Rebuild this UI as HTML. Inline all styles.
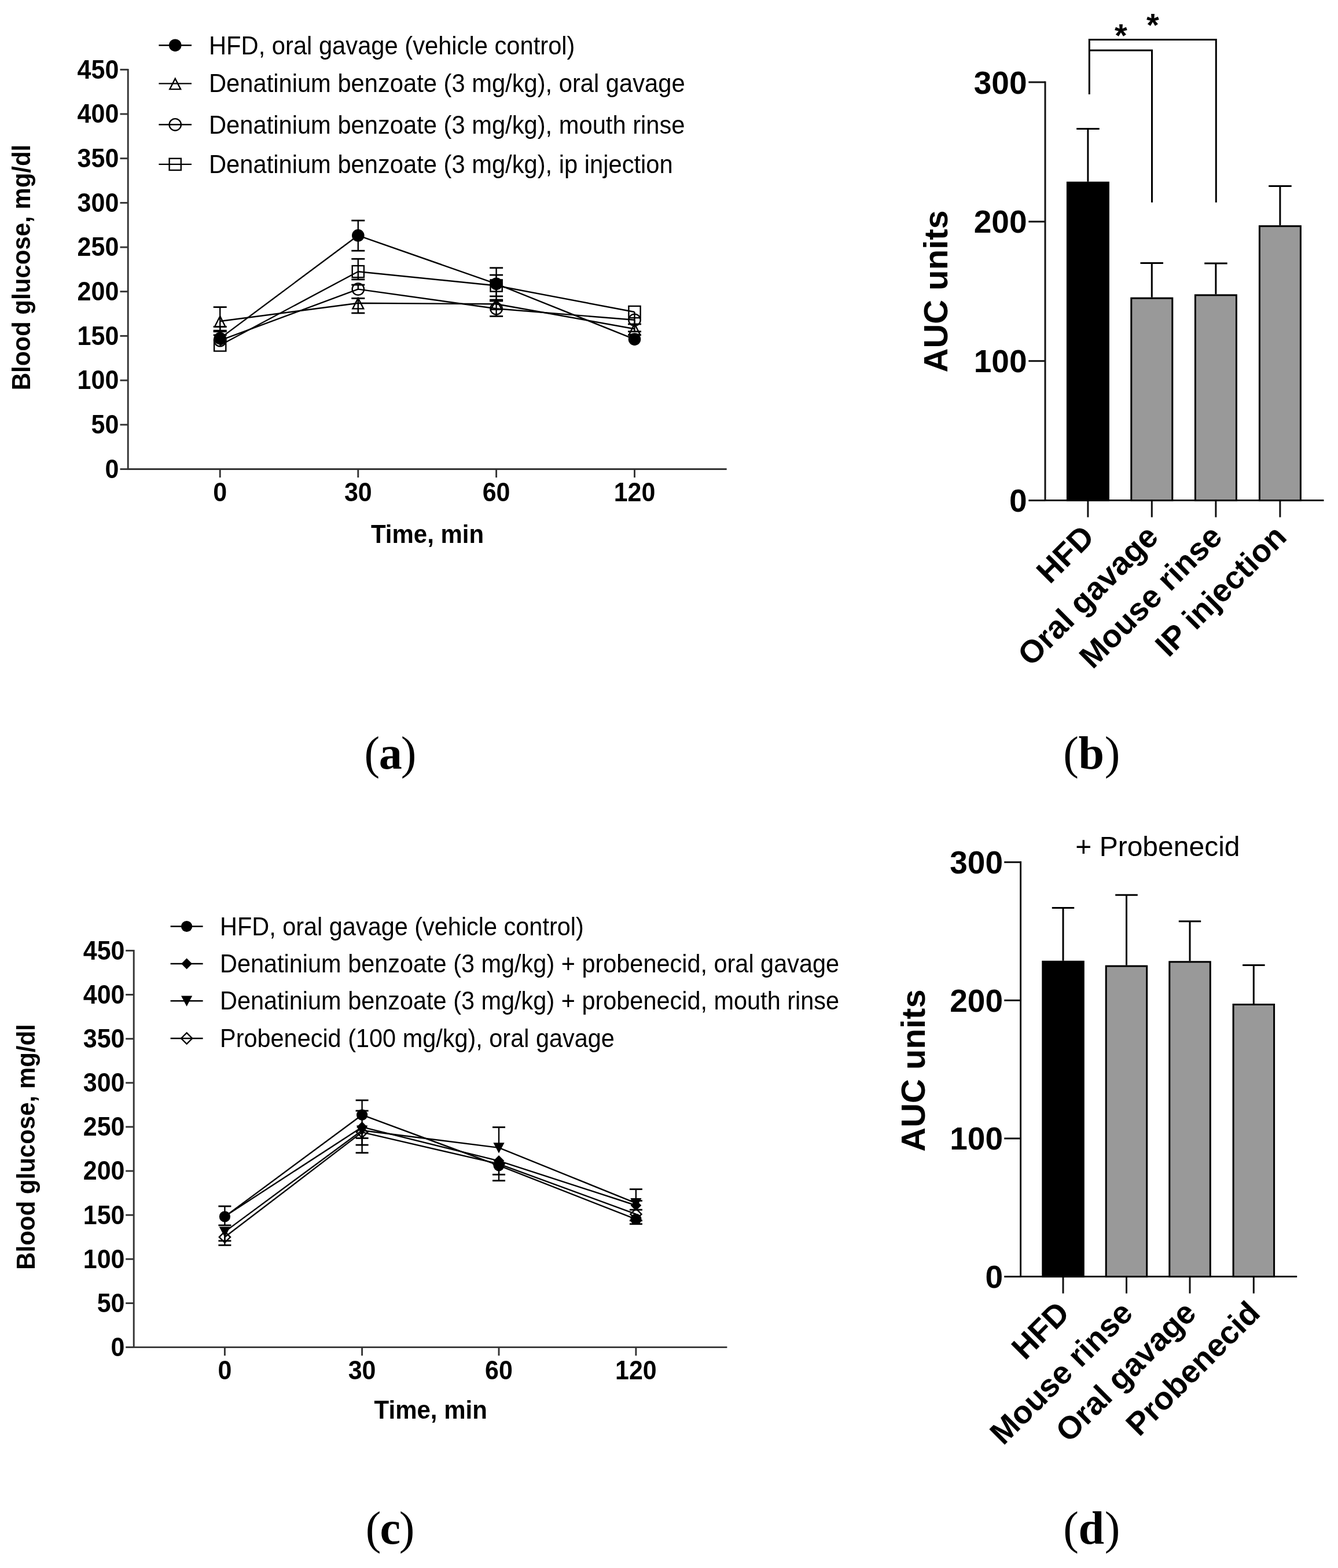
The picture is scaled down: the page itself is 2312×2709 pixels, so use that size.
<!DOCTYPE html>
<html><head><meta charset="utf-8"><title>Figure</title>
<style>html,body{margin:0;padding:0;background:#fff;} svg{display:block;}</style>
</head><body>
<svg width="2312" height="2709" viewBox="0 0 2312 2709">
<rect width="2312" height="2709" fill="#fff"/>
<line x1="221.2" y1="119.0" x2="221.2" y2="811.8" stroke="#333" stroke-width="2.9" stroke-linecap="butt"/>
<line x1="219.9" y1="810.5" x2="1255.7" y2="810.5" stroke="#333" stroke-width="2.9" stroke-linecap="butt"/>
<line x1="207.5" y1="810.5" x2="221.2" y2="810.5" stroke="#333" stroke-width="2.9" stroke-linecap="butt"/>
<text transform="translate(205.3,825.8) scale(1,1.09)" x="0" y="0" font-family="'Liberation Sans', Arial, Helvetica, sans-serif" font-size="43" font-weight="bold" text-anchor="end" >0</text>
<line x1="207.5" y1="733.8" x2="221.2" y2="733.8" stroke="#333" stroke-width="2.9" stroke-linecap="butt"/>
<text transform="translate(205.3,749.1) scale(1,1.09)" x="0" y="0" font-family="'Liberation Sans', Arial, Helvetica, sans-serif" font-size="43" font-weight="bold" text-anchor="end" >50</text>
<line x1="207.5" y1="657.1" x2="221.2" y2="657.1" stroke="#333" stroke-width="2.9" stroke-linecap="butt"/>
<text transform="translate(205.3,672.4) scale(1,1.09)" x="0" y="0" font-family="'Liberation Sans', Arial, Helvetica, sans-serif" font-size="43" font-weight="bold" text-anchor="end" >100</text>
<line x1="207.5" y1="580.4" x2="221.2" y2="580.4" stroke="#333" stroke-width="2.9" stroke-linecap="butt"/>
<text transform="translate(205.3,595.7) scale(1,1.09)" x="0" y="0" font-family="'Liberation Sans', Arial, Helvetica, sans-serif" font-size="43" font-weight="bold" text-anchor="end" >150</text>
<line x1="207.5" y1="503.7" x2="221.2" y2="503.7" stroke="#333" stroke-width="2.9" stroke-linecap="butt"/>
<text transform="translate(205.3,519.0) scale(1,1.09)" x="0" y="0" font-family="'Liberation Sans', Arial, Helvetica, sans-serif" font-size="43" font-weight="bold" text-anchor="end" >200</text>
<line x1="207.5" y1="427.1" x2="221.2" y2="427.1" stroke="#333" stroke-width="2.9" stroke-linecap="butt"/>
<text transform="translate(205.3,442.4) scale(1,1.09)" x="0" y="0" font-family="'Liberation Sans', Arial, Helvetica, sans-serif" font-size="43" font-weight="bold" text-anchor="end" >250</text>
<line x1="207.5" y1="350.4" x2="221.2" y2="350.4" stroke="#333" stroke-width="2.9" stroke-linecap="butt"/>
<text transform="translate(205.3,365.7) scale(1,1.09)" x="0" y="0" font-family="'Liberation Sans', Arial, Helvetica, sans-serif" font-size="43" font-weight="bold" text-anchor="end" >300</text>
<line x1="207.5" y1="273.7" x2="221.2" y2="273.7" stroke="#333" stroke-width="2.9" stroke-linecap="butt"/>
<text transform="translate(205.3,289.0) scale(1,1.09)" x="0" y="0" font-family="'Liberation Sans', Arial, Helvetica, sans-serif" font-size="43" font-weight="bold" text-anchor="end" >350</text>
<line x1="207.5" y1="197.0" x2="221.2" y2="197.0" stroke="#333" stroke-width="2.9" stroke-linecap="butt"/>
<text transform="translate(205.3,212.3) scale(1,1.09)" x="0" y="0" font-family="'Liberation Sans', Arial, Helvetica, sans-serif" font-size="43" font-weight="bold" text-anchor="end" >400</text>
<line x1="207.5" y1="120.3" x2="221.2" y2="120.3" stroke="#333" stroke-width="2.9" stroke-linecap="butt"/>
<text transform="translate(205.3,135.6) scale(1,1.09)" x="0" y="0" font-family="'Liberation Sans', Arial, Helvetica, sans-serif" font-size="43" font-weight="bold" text-anchor="end" >450</text>
<line x1="380.2" y1="810.5" x2="380.2" y2="825.0" stroke="#333" stroke-width="2.9" stroke-linecap="butt"/>
<text transform="translate(380.2,866.3) scale(1,1.09)" x="0" y="0" font-family="'Liberation Sans', Arial, Helvetica, sans-serif" font-size="43" font-weight="bold" text-anchor="middle" >0</text>
<line x1="618.8" y1="810.5" x2="618.8" y2="825.0" stroke="#333" stroke-width="2.9" stroke-linecap="butt"/>
<text transform="translate(618.8,866.3) scale(1,1.09)" x="0" y="0" font-family="'Liberation Sans', Arial, Helvetica, sans-serif" font-size="43" font-weight="bold" text-anchor="middle" >30</text>
<line x1="857.6" y1="810.5" x2="857.6" y2="825.0" stroke="#333" stroke-width="2.9" stroke-linecap="butt"/>
<text transform="translate(857.6,866.3) scale(1,1.09)" x="0" y="0" font-family="'Liberation Sans', Arial, Helvetica, sans-serif" font-size="43" font-weight="bold" text-anchor="middle" >60</text>
<line x1="1096.5" y1="810.5" x2="1096.5" y2="825.0" stroke="#333" stroke-width="2.9" stroke-linecap="butt"/>
<text transform="translate(1096.5,866.3) scale(1,1.09)" x="0" y="0" font-family="'Liberation Sans', Arial, Helvetica, sans-serif" font-size="43" font-weight="bold" text-anchor="middle" >120</text>
<text transform="translate(738.5,937.9) scale(1,1.06)" x="0" y="0" font-family="'Liberation Sans', Arial, Helvetica, sans-serif" font-size="42" font-weight="bold" text-anchor="middle" >Time, min</text>
<text transform="translate(52.2,462) rotate(-90) scale(1,1.06)" x="0" y="0" font-family="'Liberation Sans', Arial, Helvetica, sans-serif" font-size="42" font-weight="bold" text-anchor="middle">Blood glucose, mg/dl</text>
<line x1="274.4" y1="78.2" x2="331.0" y2="78.2" stroke="#000" stroke-width="2.4" stroke-linecap="butt"/>
<circle cx="302.7" cy="78.2" r="10.8" fill="#000"/>
<text transform="translate(361.0,94.0) scale(1,1.06)" x="0" y="0" font-family="'Liberation Sans', Arial, Helvetica, sans-serif" font-size="41.7" font-weight="normal" text-anchor="start" >HFD, oral gavage (vehicle control)</text>
<line x1="274.4" y1="144.4" x2="331.0" y2="144.4" stroke="#000" stroke-width="2.4" stroke-linecap="butt"/>
<polygon points="302.7,135.8 312.1,154.1 293.3,154.1" fill="none" stroke="#000" stroke-width="2.4" stroke-linejoin="miter"/>
<text transform="translate(361.0,159.3) scale(1,1.06)" x="0" y="0" font-family="'Liberation Sans', Arial, Helvetica, sans-serif" font-size="41.7" font-weight="normal" text-anchor="start" >Denatinium benzoate (3 mg/kg), oral gavage</text>
<line x1="274.4" y1="215.3" x2="331.0" y2="215.3" stroke="#000" stroke-width="2.4" stroke-linecap="butt"/>
<circle cx="302.7" cy="215.3" r="10.20" fill="none" stroke="#000" stroke-width="2.4"/>
<text transform="translate(361.0,230.9) scale(1,1.06)" x="0" y="0" font-family="'Liberation Sans', Arial, Helvetica, sans-serif" font-size="41.7" font-weight="normal" text-anchor="start" >Denatinium benzoate (3 mg/kg), mouth rinse</text>
<line x1="274.4" y1="283.9" x2="331.0" y2="283.9" stroke="#000" stroke-width="2.4" stroke-linecap="butt"/>
<rect x="292.6" y="273.8" width="20.2" height="20.2" fill="none" stroke="#000" stroke-width="2.4"/>
<text transform="translate(361.0,299.3) scale(1,1.06)" x="0" y="0" font-family="'Liberation Sans', Arial, Helvetica, sans-serif" font-size="41.7" font-weight="normal" text-anchor="start" >Denatinium benzoate (3 mg/kg), ip injection</text>
<line x1="380.2" y1="555.0" x2="380.2" y2="530.6" stroke="#000" stroke-width="2.4" stroke-linecap="butt"/>
<line x1="368.7" y1="530.6" x2="391.7" y2="530.6" stroke="#000" stroke-width="2.8" stroke-linecap="butt"/>
<line x1="380.2" y1="555.0" x2="380.2" y2="578.9" stroke="#000" stroke-width="2.4" stroke-linecap="butt"/>
<line x1="368.7" y1="578.9" x2="391.7" y2="578.9" stroke="#000" stroke-width="2.8" stroke-linecap="butt"/>
<line x1="618.8" y1="523.7" x2="618.8" y2="515.4" stroke="#000" stroke-width="2.4" stroke-linecap="butt"/>
<line x1="607.3" y1="515.4" x2="630.3" y2="515.4" stroke="#000" stroke-width="2.8" stroke-linecap="butt"/>
<line x1="618.8" y1="523.7" x2="618.8" y2="540.9" stroke="#000" stroke-width="2.4" stroke-linecap="butt"/>
<line x1="607.3" y1="540.9" x2="630.3" y2="540.9" stroke="#000" stroke-width="2.8" stroke-linecap="butt"/>
<line x1="380.2" y1="588.1" x2="380.2" y2="572.8" stroke="#000" stroke-width="2.4" stroke-linecap="butt"/>
<line x1="368.7" y1="572.8" x2="391.7" y2="572.8" stroke="#000" stroke-width="2.8" stroke-linecap="butt"/>
<line x1="618.8" y1="499.6" x2="618.8" y2="492.1" stroke="#000" stroke-width="2.4" stroke-linecap="butt"/>
<line x1="607.3" y1="492.1" x2="630.3" y2="492.1" stroke="#000" stroke-width="2.8" stroke-linecap="butt"/>
<line x1="857.6" y1="533.2" x2="857.6" y2="520.0" stroke="#000" stroke-width="2.4" stroke-linecap="butt"/>
<line x1="846.1" y1="520.0" x2="869.1" y2="520.0" stroke="#000" stroke-width="2.8" stroke-linecap="butt"/>
<line x1="857.6" y1="533.2" x2="857.6" y2="546.4" stroke="#000" stroke-width="2.4" stroke-linecap="butt"/>
<line x1="846.1" y1="546.4" x2="869.1" y2="546.4" stroke="#000" stroke-width="2.8" stroke-linecap="butt"/>
<line x1="1096.5" y1="552.8" x2="1096.5" y2="572.8" stroke="#000" stroke-width="2.4" stroke-linecap="butt"/>
<line x1="1085.0" y1="572.8" x2="1108.0" y2="572.8" stroke="#000" stroke-width="2.8" stroke-linecap="butt"/>
<line x1="380.2" y1="596.5" x2="380.2" y2="564.5" stroke="#000" stroke-width="2.4" stroke-linecap="butt"/>
<line x1="368.7" y1="564.5" x2="391.7" y2="564.5" stroke="#000" stroke-width="2.8" stroke-linecap="butt"/>
<line x1="618.8" y1="469.2" x2="618.8" y2="447.3" stroke="#000" stroke-width="2.4" stroke-linecap="butt"/>
<line x1="607.3" y1="447.3" x2="630.3" y2="447.3" stroke="#000" stroke-width="2.8" stroke-linecap="butt"/>
<line x1="618.8" y1="469.2" x2="618.8" y2="482.9" stroke="#000" stroke-width="2.4" stroke-linecap="butt"/>
<line x1="607.3" y1="482.9" x2="630.3" y2="482.9" stroke="#000" stroke-width="2.8" stroke-linecap="butt"/>
<line x1="857.6" y1="493.5" x2="857.6" y2="475.1" stroke="#000" stroke-width="2.4" stroke-linecap="butt"/>
<line x1="846.1" y1="475.1" x2="869.1" y2="475.1" stroke="#000" stroke-width="2.8" stroke-linecap="butt"/>
<line x1="857.6" y1="493.5" x2="857.6" y2="511.9" stroke="#000" stroke-width="2.4" stroke-linecap="butt"/>
<line x1="846.1" y1="511.9" x2="869.1" y2="511.9" stroke="#000" stroke-width="2.8" stroke-linecap="butt"/>
<line x1="1096.5" y1="539.0" x2="1096.5" y2="560.0" stroke="#000" stroke-width="2.4" stroke-linecap="butt"/>
<line x1="1085.0" y1="560.0" x2="1108.0" y2="560.0" stroke="#000" stroke-width="2.8" stroke-linecap="butt"/>
<line x1="380.2" y1="584.6" x2="380.2" y2="571.2" stroke="#000" stroke-width="2.4" stroke-linecap="butt"/>
<line x1="368.7" y1="571.2" x2="391.7" y2="571.2" stroke="#000" stroke-width="2.8" stroke-linecap="butt"/>
<line x1="618.8" y1="406.8" x2="618.8" y2="381.0" stroke="#000" stroke-width="2.4" stroke-linecap="butt"/>
<line x1="607.3" y1="381.0" x2="630.3" y2="381.0" stroke="#000" stroke-width="2.8" stroke-linecap="butt"/>
<line x1="618.8" y1="406.8" x2="618.8" y2="433.2" stroke="#000" stroke-width="2.4" stroke-linecap="butt"/>
<line x1="607.3" y1="433.2" x2="630.3" y2="433.2" stroke="#000" stroke-width="2.8" stroke-linecap="butt"/>
<line x1="857.6" y1="490.4" x2="857.6" y2="462.8" stroke="#000" stroke-width="2.4" stroke-linecap="butt"/>
<line x1="846.1" y1="462.8" x2="869.1" y2="462.8" stroke="#000" stroke-width="2.8" stroke-linecap="butt"/>
<line x1="857.6" y1="490.4" x2="857.6" y2="518.0" stroke="#000" stroke-width="2.4" stroke-linecap="butt"/>
<line x1="846.1" y1="518.0" x2="869.1" y2="518.0" stroke="#000" stroke-width="2.8" stroke-linecap="butt"/>
<line x1="1096.5" y1="586.1" x2="1096.5" y2="578.9" stroke="#000" stroke-width="2.4" stroke-linecap="butt"/>
<line x1="1085.0" y1="578.9" x2="1108.0" y2="578.9" stroke="#000" stroke-width="2.8" stroke-linecap="butt"/>
<polyline points="380.2,555.0 618.8,523.7 857.6,525.2 1096.5,568.2" fill="none" stroke="#000" stroke-width="2.4" stroke-linejoin="round"/>
<polyline points="380.2,588.1 618.8,499.6 857.6,533.2 1096.5,552.8" fill="none" stroke="#000" stroke-width="2.4" stroke-linejoin="round"/>
<polyline points="380.2,596.5 618.8,469.2 857.6,493.5 1096.5,539.0" fill="none" stroke="#000" stroke-width="2.4" stroke-linejoin="round"/>
<polyline points="380.2,584.6 618.8,406.8 857.6,490.4 1096.5,586.1" fill="none" stroke="#000" stroke-width="2.4" stroke-linejoin="round"/>
<polygon points="380.2,546.3 389.6,564.7 370.8,564.7" fill="none" stroke="#000" stroke-width="2.4" stroke-linejoin="miter"/>
<polygon points="618.8,515.0 628.2,533.4 609.4,533.4" fill="none" stroke="#000" stroke-width="2.4" stroke-linejoin="miter"/>
<polygon points="857.6,516.6 867.0,534.9 848.2,534.9" fill="none" stroke="#000" stroke-width="2.4" stroke-linejoin="miter"/>
<polygon points="1096.5,559.5 1105.9,577.9 1087.1,577.9" fill="none" stroke="#000" stroke-width="2.4" stroke-linejoin="miter"/>
<circle cx="380.2" cy="588.1" r="10.20" fill="none" stroke="#000" stroke-width="2.4"/>
<circle cx="618.8" cy="499.6" r="10.20" fill="none" stroke="#000" stroke-width="2.4"/>
<circle cx="857.6" cy="533.2" r="10.20" fill="none" stroke="#000" stroke-width="2.4"/>
<circle cx="1096.5" cy="552.8" r="10.20" fill="none" stroke="#000" stroke-width="2.4"/>
<rect x="370.1" y="586.4" width="20.2" height="20.2" fill="none" stroke="#000" stroke-width="2.4"/>
<rect x="608.7" y="459.1" width="20.2" height="20.2" fill="none" stroke="#000" stroke-width="2.4"/>
<rect x="847.5" y="483.4" width="20.2" height="20.2" fill="none" stroke="#000" stroke-width="2.4"/>
<rect x="1086.4" y="528.9" width="20.2" height="20.2" fill="none" stroke="#000" stroke-width="2.4"/>
<circle cx="380.2" cy="584.6" r="10.8" fill="#000"/>
<circle cx="618.8" cy="406.8" r="10.8" fill="#000"/>
<circle cx="857.6" cy="490.4" r="10.8" fill="#000"/>
<circle cx="1096.5" cy="586.1" r="10.8" fill="#000"/>
<line x1="231.2" y1="1641.1" x2="231.2" y2="2328.9" stroke="#333" stroke-width="2.9" stroke-linecap="butt"/>
<line x1="229.9" y1="2327.6" x2="1256.4" y2="2327.6" stroke="#333" stroke-width="2.9" stroke-linecap="butt"/>
<line x1="217.2" y1="2327.6" x2="231.2" y2="2327.6" stroke="#333" stroke-width="2.9" stroke-linecap="butt"/>
<text transform="translate(215.5,2342.9) scale(1,1.09)" x="0" y="0" font-family="'Liberation Sans', Arial, Helvetica, sans-serif" font-size="43" font-weight="bold" text-anchor="end" >0</text>
<line x1="217.2" y1="2251.5" x2="231.2" y2="2251.5" stroke="#333" stroke-width="2.9" stroke-linecap="butt"/>
<text transform="translate(215.5,2266.8) scale(1,1.09)" x="0" y="0" font-family="'Liberation Sans', Arial, Helvetica, sans-serif" font-size="43" font-weight="bold" text-anchor="end" >50</text>
<line x1="217.2" y1="2175.3" x2="231.2" y2="2175.3" stroke="#333" stroke-width="2.9" stroke-linecap="butt"/>
<text transform="translate(215.5,2190.6) scale(1,1.09)" x="0" y="0" font-family="'Liberation Sans', Arial, Helvetica, sans-serif" font-size="43" font-weight="bold" text-anchor="end" >100</text>
<line x1="217.2" y1="2099.2" x2="231.2" y2="2099.2" stroke="#333" stroke-width="2.9" stroke-linecap="butt"/>
<text transform="translate(215.5,2114.5) scale(1,1.09)" x="0" y="0" font-family="'Liberation Sans', Arial, Helvetica, sans-serif" font-size="43" font-weight="bold" text-anchor="end" >150</text>
<line x1="217.2" y1="2023.1" x2="231.2" y2="2023.1" stroke="#333" stroke-width="2.9" stroke-linecap="butt"/>
<text transform="translate(215.5,2038.4) scale(1,1.09)" x="0" y="0" font-family="'Liberation Sans', Arial, Helvetica, sans-serif" font-size="43" font-weight="bold" text-anchor="end" >200</text>
<line x1="217.2" y1="1946.9" x2="231.2" y2="1946.9" stroke="#333" stroke-width="2.9" stroke-linecap="butt"/>
<text transform="translate(215.5,1962.2) scale(1,1.09)" x="0" y="0" font-family="'Liberation Sans', Arial, Helvetica, sans-serif" font-size="43" font-weight="bold" text-anchor="end" >250</text>
<line x1="217.2" y1="1870.8" x2="231.2" y2="1870.8" stroke="#333" stroke-width="2.9" stroke-linecap="butt"/>
<text transform="translate(215.5,1886.1) scale(1,1.09)" x="0" y="0" font-family="'Liberation Sans', Arial, Helvetica, sans-serif" font-size="43" font-weight="bold" text-anchor="end" >300</text>
<line x1="217.2" y1="1794.7" x2="231.2" y2="1794.7" stroke="#333" stroke-width="2.9" stroke-linecap="butt"/>
<text transform="translate(215.5,1810.0) scale(1,1.09)" x="0" y="0" font-family="'Liberation Sans', Arial, Helvetica, sans-serif" font-size="43" font-weight="bold" text-anchor="end" >350</text>
<line x1="217.2" y1="1718.5" x2="231.2" y2="1718.5" stroke="#333" stroke-width="2.9" stroke-linecap="butt"/>
<text transform="translate(215.5,1733.8) scale(1,1.09)" x="0" y="0" font-family="'Liberation Sans', Arial, Helvetica, sans-serif" font-size="43" font-weight="bold" text-anchor="end" >400</text>
<line x1="217.2" y1="1642.4" x2="231.2" y2="1642.4" stroke="#333" stroke-width="2.9" stroke-linecap="butt"/>
<text transform="translate(215.5,1657.7) scale(1,1.09)" x="0" y="0" font-family="'Liberation Sans', Arial, Helvetica, sans-serif" font-size="43" font-weight="bold" text-anchor="end" >450</text>
<line x1="388.4" y1="2327.6" x2="388.4" y2="2342.1" stroke="#333" stroke-width="2.9" stroke-linecap="butt"/>
<text transform="translate(388.4,2382.5) scale(1,1.09)" x="0" y="0" font-family="'Liberation Sans', Arial, Helvetica, sans-serif" font-size="43" font-weight="bold" text-anchor="middle" >0</text>
<line x1="625.6" y1="2327.6" x2="625.6" y2="2342.1" stroke="#333" stroke-width="2.9" stroke-linecap="butt"/>
<text transform="translate(625.6,2382.5) scale(1,1.09)" x="0" y="0" font-family="'Liberation Sans', Arial, Helvetica, sans-serif" font-size="43" font-weight="bold" text-anchor="middle" >30</text>
<line x1="862.0" y1="2327.6" x2="862.0" y2="2342.1" stroke="#333" stroke-width="2.9" stroke-linecap="butt"/>
<text transform="translate(862.0,2382.5) scale(1,1.09)" x="0" y="0" font-family="'Liberation Sans', Arial, Helvetica, sans-serif" font-size="43" font-weight="bold" text-anchor="middle" >60</text>
<line x1="1098.9" y1="2327.6" x2="1098.9" y2="2342.1" stroke="#333" stroke-width="2.9" stroke-linecap="butt"/>
<text transform="translate(1098.9,2382.5) scale(1,1.09)" x="0" y="0" font-family="'Liberation Sans', Arial, Helvetica, sans-serif" font-size="43" font-weight="bold" text-anchor="middle" >120</text>
<text transform="translate(744.2,2451.2) scale(1,1.06)" x="0" y="0" font-family="'Liberation Sans', Arial, Helvetica, sans-serif" font-size="42" font-weight="bold" text-anchor="middle" >Time, min</text>
<text transform="translate(60.2,1981.5) rotate(-90) scale(1,1.06)" x="0" y="0" font-family="'Liberation Sans', Arial, Helvetica, sans-serif" font-size="42" font-weight="bold" text-anchor="middle">Blood glucose, mg/dl</text>
<line x1="294.6" y1="1600.5" x2="350.6" y2="1600.5" stroke="#000" stroke-width="2.4" stroke-linecap="butt"/>
<circle cx="322.6" cy="1600.5" r="9.6" fill="#000"/>
<text transform="translate(380.0,1615.5) scale(1,1.06)" x="0" y="0" font-family="'Liberation Sans', Arial, Helvetica, sans-serif" font-size="41.45" font-weight="normal" text-anchor="start" >HFD, oral gavage (vehicle control)</text>
<line x1="294.6" y1="1665.0" x2="350.6" y2="1665.0" stroke="#000" stroke-width="2.4" stroke-linecap="butt"/>
<polygon points="322.6,1655.6 332.0,1665.0 322.6,1674.4 313.2,1665.0" fill="#000"/>
<text transform="translate(380.0,1680.0) scale(1,1.06)" x="0" y="0" font-family="'Liberation Sans', Arial, Helvetica, sans-serif" font-size="41.45" font-weight="normal" text-anchor="start" >Denatinium benzoate (3 mg/kg) + probenecid, oral gavage</text>
<line x1="294.6" y1="1729.2" x2="350.6" y2="1729.2" stroke="#000" stroke-width="2.4" stroke-linecap="butt"/>
<polygon points="313.0,1720.6 332.2,1720.6 322.6,1738.8" fill="#000"/>
<text transform="translate(380.0,1744.3) scale(1,1.06)" x="0" y="0" font-family="'Liberation Sans', Arial, Helvetica, sans-serif" font-size="41.45" font-weight="normal" text-anchor="start" >Denatinium benzoate (3 mg/kg) + probenecid, mouth rinse</text>
<line x1="294.6" y1="1794.0" x2="350.6" y2="1794.0" stroke="#000" stroke-width="2.4" stroke-linecap="butt"/>
<polygon points="322.6,1784.4 332.2,1794.0 322.6,1803.6 313.0,1794.0" fill="none" stroke="#000" stroke-width="2.4"/>
<text transform="translate(380.0,1809.3) scale(1,1.06)" x="0" y="0" font-family="'Liberation Sans', Arial, Helvetica, sans-serif" font-size="41.45" font-weight="normal" text-anchor="start" >Probenecid (100 mg/kg), oral gavage</text>
<line x1="388.4" y1="2137.3" x2="388.4" y2="2151.3" stroke="#000" stroke-width="2.4" stroke-linecap="butt"/>
<line x1="377.4" y1="2151.3" x2="399.4" y2="2151.3" stroke="#000" stroke-width="2.8" stroke-linecap="butt"/>
<line x1="625.6" y1="1956.1" x2="625.6" y2="1991.7" stroke="#000" stroke-width="2.4" stroke-linecap="butt"/>
<line x1="614.6" y1="1991.7" x2="636.6" y2="1991.7" stroke="#000" stroke-width="2.8" stroke-linecap="butt"/>
<line x1="862.0" y1="2010.9" x2="862.0" y2="2039.8" stroke="#000" stroke-width="2.4" stroke-linecap="butt"/>
<line x1="851.0" y1="2039.8" x2="873.0" y2="2039.8" stroke="#000" stroke-width="2.8" stroke-linecap="butt"/>
<line x1="1098.9" y1="2097.7" x2="1098.9" y2="2108.8" stroke="#000" stroke-width="2.4" stroke-linecap="butt"/>
<line x1="1087.9" y1="2108.8" x2="1109.9" y2="2108.8" stroke="#000" stroke-width="2.8" stroke-linecap="butt"/>
<line x1="388.4" y1="2128.1" x2="388.4" y2="2143.8" stroke="#000" stroke-width="2.4" stroke-linecap="butt"/>
<line x1="377.4" y1="2143.8" x2="399.4" y2="2143.8" stroke="#000" stroke-width="2.8" stroke-linecap="butt"/>
<line x1="625.6" y1="1953.0" x2="625.6" y2="1978.1" stroke="#000" stroke-width="2.4" stroke-linecap="butt"/>
<line x1="614.6" y1="1978.1" x2="636.6" y2="1978.1" stroke="#000" stroke-width="2.8" stroke-linecap="butt"/>
<line x1="862.0" y1="1982.9" x2="862.0" y2="1947.5" stroke="#000" stroke-width="2.4" stroke-linecap="butt"/>
<line x1="851.0" y1="1947.5" x2="873.0" y2="1947.5" stroke="#000" stroke-width="2.8" stroke-linecap="butt"/>
<line x1="1098.9" y1="2078.6" x2="1098.9" y2="2054.6" stroke="#000" stroke-width="2.4" stroke-linecap="butt"/>
<line x1="1087.9" y1="2054.6" x2="1109.9" y2="2054.6" stroke="#000" stroke-width="2.8" stroke-linecap="butt"/>
<line x1="388.4" y1="2101.5" x2="388.4" y2="2116.9" stroke="#000" stroke-width="2.4" stroke-linecap="butt"/>
<line x1="377.4" y1="2116.9" x2="399.4" y2="2116.9" stroke="#000" stroke-width="2.8" stroke-linecap="butt"/>
<line x1="625.6" y1="1947.2" x2="625.6" y2="1919.1" stroke="#000" stroke-width="2.4" stroke-linecap="butt"/>
<line x1="614.6" y1="1919.1" x2="636.6" y2="1919.1" stroke="#000" stroke-width="2.8" stroke-linecap="butt"/>
<line x1="625.6" y1="1947.2" x2="625.6" y2="1966.4" stroke="#000" stroke-width="2.4" stroke-linecap="butt"/>
<line x1="614.6" y1="1966.4" x2="636.6" y2="1966.4" stroke="#000" stroke-width="2.8" stroke-linecap="butt"/>
<line x1="862.0" y1="2005.6" x2="862.0" y2="2029.3" stroke="#000" stroke-width="2.4" stroke-linecap="butt"/>
<line x1="851.0" y1="2029.3" x2="873.0" y2="2029.3" stroke="#000" stroke-width="2.8" stroke-linecap="butt"/>
<line x1="1098.9" y1="2082.5" x2="1098.9" y2="2074.5" stroke="#000" stroke-width="2.4" stroke-linecap="butt"/>
<line x1="1087.9" y1="2074.5" x2="1109.9" y2="2074.5" stroke="#000" stroke-width="2.8" stroke-linecap="butt"/>
<line x1="1098.9" y1="2082.5" x2="1098.9" y2="2090.1" stroke="#000" stroke-width="2.4" stroke-linecap="butt"/>
<line x1="1087.9" y1="2090.1" x2="1109.9" y2="2090.1" stroke="#000" stroke-width="2.8" stroke-linecap="butt"/>
<line x1="388.4" y1="2101.9" x2="388.4" y2="2084.0" stroke="#000" stroke-width="2.4" stroke-linecap="butt"/>
<line x1="377.4" y1="2084.0" x2="399.4" y2="2084.0" stroke="#000" stroke-width="2.8" stroke-linecap="butt"/>
<line x1="625.6" y1="1926.2" x2="625.6" y2="1900.9" stroke="#000" stroke-width="2.4" stroke-linecap="butt"/>
<line x1="614.6" y1="1900.9" x2="636.6" y2="1900.9" stroke="#000" stroke-width="2.8" stroke-linecap="butt"/>
<line x1="1098.9" y1="2106.4" x2="1098.9" y2="2114.7" stroke="#000" stroke-width="2.4" stroke-linecap="butt"/>
<line x1="1087.9" y1="2114.7" x2="1109.9" y2="2114.7" stroke="#000" stroke-width="2.8" stroke-linecap="butt"/>
<polyline points="388.4,2137.3 625.6,1956.1 862.0,2010.9 1098.9,2097.7" fill="none" stroke="#000" stroke-width="2.4" stroke-linejoin="round"/>
<polyline points="388.4,2128.1 625.6,1953.0 862.0,1982.9 1098.9,2078.6" fill="none" stroke="#000" stroke-width="2.4" stroke-linejoin="round"/>
<polyline points="388.4,2101.5 625.6,1947.2 862.0,2005.6 1098.9,2082.5" fill="none" stroke="#000" stroke-width="2.4" stroke-linejoin="round"/>
<polyline points="388.4,2101.9 625.6,1926.2 862.0,2013.6 1098.9,2106.4" fill="none" stroke="#000" stroke-width="2.4" stroke-linejoin="round"/>
<polygon points="388.4,2127.7 398.0,2137.3 388.4,2146.9 378.8,2137.3" fill="none" stroke="#000" stroke-width="2.4"/>
<polygon points="625.6,1946.5 635.2,1956.1 625.6,1965.7 616.0,1956.1" fill="none" stroke="#000" stroke-width="2.4"/>
<polygon points="862.0,2001.3 871.6,2010.9 862.0,2020.5 852.4,2010.9" fill="none" stroke="#000" stroke-width="2.4"/>
<polygon points="1098.9,2088.1 1108.5,2097.7 1098.9,2107.3 1089.3,2097.7" fill="none" stroke="#000" stroke-width="2.4"/>
<polygon points="378.8,2119.5 398.0,2119.5 388.4,2137.7" fill="#000"/>
<polygon points="616.0,1944.4 635.2,1944.4 625.6,1962.6" fill="#000"/>
<polygon points="852.4,1974.2 871.6,1974.2 862.0,1992.5" fill="#000"/>
<polygon points="1089.3,2070.0 1108.5,2070.0 1098.9,2088.2" fill="#000"/>
<polygon points="388.4,2092.1 397.8,2101.5 388.4,2110.9 379.0,2101.5" fill="#000"/>
<polygon points="625.6,1937.8 635.0,1947.2 625.6,1956.6 616.2,1947.2" fill="#000"/>
<polygon points="862.0,1996.1 871.4,2005.6 862.0,2015.0 852.6,2005.6" fill="#000"/>
<polygon points="1098.9,2073.0 1108.3,2082.5 1098.9,2091.9 1089.5,2082.5" fill="#000"/>
<circle cx="388.4" cy="2101.9" r="9.6" fill="#000"/>
<circle cx="625.6" cy="1926.2" r="9.6" fill="#000"/>
<circle cx="862.0" cy="2013.6" r="9.6" fill="#000"/>
<circle cx="1098.9" cy="2106.4" r="9.6" fill="#000"/>
<line x1="1806.0" y1="140.5" x2="1806.0" y2="866.1" stroke="#111" stroke-width="3.0" stroke-linecap="butt"/>
<line x1="1804.5" y1="864.6" x2="2287.5" y2="864.6" stroke="#111" stroke-width="3.0" stroke-linecap="butt"/>
<line x1="1777.3" y1="864.6" x2="1806.0" y2="864.6" stroke="#111" stroke-width="3.0" stroke-linecap="butt"/>
<text x="1774.5" y="884.1" font-family="'Liberation Sans', Arial, Helvetica, sans-serif" font-size="55" font-weight="bold" text-anchor="end" >0</text>
<line x1="1777.3" y1="623.7" x2="1806.0" y2="623.7" stroke="#111" stroke-width="3.0" stroke-linecap="butt"/>
<text x="1774.5" y="643.2" font-family="'Liberation Sans', Arial, Helvetica, sans-serif" font-size="55" font-weight="bold" text-anchor="end" >100</text>
<line x1="1777.3" y1="382.9" x2="1806.0" y2="382.9" stroke="#111" stroke-width="3.0" stroke-linecap="butt"/>
<text x="1774.5" y="402.4" font-family="'Liberation Sans', Arial, Helvetica, sans-serif" font-size="55" font-weight="bold" text-anchor="end" >200</text>
<line x1="1777.3" y1="142.0" x2="1806.0" y2="142.0" stroke="#111" stroke-width="3.0" stroke-linecap="butt"/>
<text x="1774.5" y="161.5" font-family="'Liberation Sans', Arial, Helvetica, sans-serif" font-size="55" font-weight="bold" text-anchor="end" >300</text>
<line x1="1879.9" y1="864.6" x2="1879.9" y2="893.6" stroke="#111" stroke-width="3.0" stroke-linecap="butt"/>
<line x1="1990.3" y1="864.6" x2="1990.3" y2="893.6" stroke="#111" stroke-width="3.0" stroke-linecap="butt"/>
<line x1="2100.9" y1="864.6" x2="2100.9" y2="893.6" stroke="#111" stroke-width="3.0" stroke-linecap="butt"/>
<line x1="2211.9" y1="864.6" x2="2211.9" y2="893.6" stroke="#111" stroke-width="3.0" stroke-linecap="butt"/>
<line x1="1879.9" y1="313.8" x2="1879.9" y2="222.4" stroke="#000" stroke-width="3.0" stroke-linecap="butt"/>
<line x1="1860.2" y1="222.4" x2="1899.7" y2="222.4" stroke="#000" stroke-width="3.0" stroke-linecap="butt"/>
<rect x="1844.4" y="315.3" width="71.0" height="549.3" fill="#000" stroke="#000" stroke-width="3.0"/>
<line x1="1990.3" y1="513.7" x2="1990.3" y2="454.6" stroke="#000" stroke-width="3.0" stroke-linecap="butt"/>
<line x1="1970.5" y1="454.6" x2="2010.0" y2="454.6" stroke="#000" stroke-width="3.0" stroke-linecap="butt"/>
<rect x="1954.8" y="515.2" width="71.0" height="349.4" fill="#999" stroke="#000" stroke-width="3.0"/>
<line x1="2100.9" y1="508.4" x2="2100.9" y2="454.9" stroke="#000" stroke-width="3.0" stroke-linecap="butt"/>
<line x1="2081.2" y1="454.9" x2="2120.7" y2="454.9" stroke="#000" stroke-width="3.0" stroke-linecap="butt"/>
<rect x="2065.4" y="509.9" width="71.0" height="354.7" fill="#999" stroke="#000" stroke-width="3.0"/>
<line x1="2211.9" y1="389.2" x2="2211.9" y2="321.6" stroke="#000" stroke-width="3.0" stroke-linecap="butt"/>
<line x1="2192.2" y1="321.6" x2="2231.7" y2="321.6" stroke="#000" stroke-width="3.0" stroke-linecap="butt"/>
<rect x="2176.4" y="390.7" width="71.0" height="473.9" fill="#999" stroke="#000" stroke-width="3.0"/>
<text transform="translate(1636.9,503.3) rotate(-90)" x="0" y="0" font-family="'Liberation Sans', Arial, Helvetica, sans-serif" font-size="58" font-weight="bold" text-anchor="middle">AUC units</text>
<text transform="translate(1893.9,930.6) rotate(-45)" x="0" y="0" font-family="'Liberation Sans', Arial, Helvetica, sans-serif" font-size="55" font-weight="bold" text-anchor="end">HFD</text>
<text transform="translate(2004.3,930.6) rotate(-45)" x="0" y="0" font-family="'Liberation Sans', Arial, Helvetica, sans-serif" font-size="55" font-weight="bold" text-anchor="end">Oral gavage</text>
<text transform="translate(2114.9,930.6) rotate(-45)" x="0" y="0" font-family="'Liberation Sans', Arial, Helvetica, sans-serif" font-size="55" font-weight="bold" text-anchor="end">Mouse rinse</text>
<text transform="translate(2225.9,930.6) rotate(-45)" x="0" y="0" font-family="'Liberation Sans', Arial, Helvetica, sans-serif" font-size="55" font-weight="bold" text-anchor="end">IP injection</text>
<line x1="1763.6" y1="1488.1" x2="1763.6" y2="2207.1" stroke="#111" stroke-width="3.0" stroke-linecap="butt"/>
<line x1="1762.1" y1="2205.6" x2="2241.2" y2="2205.6" stroke="#111" stroke-width="3.0" stroke-linecap="butt"/>
<line x1="1735.2" y1="2205.6" x2="1763.6" y2="2205.6" stroke="#111" stroke-width="3.0" stroke-linecap="butt"/>
<text x="1733.0" y="2225.1" font-family="'Liberation Sans', Arial, Helvetica, sans-serif" font-size="55" font-weight="bold" text-anchor="end" >0</text>
<line x1="1735.2" y1="1966.9" x2="1763.6" y2="1966.9" stroke="#111" stroke-width="3.0" stroke-linecap="butt"/>
<text x="1733.0" y="1986.4" font-family="'Liberation Sans', Arial, Helvetica, sans-serif" font-size="55" font-weight="bold" text-anchor="end" >100</text>
<line x1="1735.2" y1="1728.3" x2="1763.6" y2="1728.3" stroke="#111" stroke-width="3.0" stroke-linecap="butt"/>
<text x="1733.0" y="1747.8" font-family="'Liberation Sans', Arial, Helvetica, sans-serif" font-size="55" font-weight="bold" text-anchor="end" >200</text>
<line x1="1735.2" y1="1489.6" x2="1763.6" y2="1489.6" stroke="#111" stroke-width="3.0" stroke-linecap="butt"/>
<text x="1733.0" y="1509.1" font-family="'Liberation Sans', Arial, Helvetica, sans-serif" font-size="55" font-weight="bold" text-anchor="end" >300</text>
<line x1="1837.0" y1="2205.6" x2="1837.0" y2="2234.6" stroke="#111" stroke-width="3.0" stroke-linecap="butt"/>
<line x1="1946.5" y1="2205.6" x2="1946.5" y2="2234.6" stroke="#111" stroke-width="3.0" stroke-linecap="butt"/>
<line x1="2056.0" y1="2205.6" x2="2056.0" y2="2234.6" stroke="#111" stroke-width="3.0" stroke-linecap="butt"/>
<line x1="2166.3" y1="2205.6" x2="2166.3" y2="2234.6" stroke="#111" stroke-width="3.0" stroke-linecap="butt"/>
<line x1="1837.0" y1="1659.8" x2="1837.0" y2="1568.6" stroke="#000" stroke-width="3.0" stroke-linecap="butt"/>
<line x1="1817.8" y1="1568.6" x2="1856.2" y2="1568.6" stroke="#000" stroke-width="3.0" stroke-linecap="butt"/>
<rect x="1801.8" y="1661.3" width="70.5" height="544.3" fill="#000" stroke="#000" stroke-width="3.0"/>
<line x1="1946.5" y1="1667.6" x2="1946.5" y2="1546.3" stroke="#000" stroke-width="3.0" stroke-linecap="butt"/>
<line x1="1927.2" y1="1546.3" x2="1965.8" y2="1546.3" stroke="#000" stroke-width="3.0" stroke-linecap="butt"/>
<rect x="1911.2" y="1669.1" width="70.5" height="536.5" fill="#999" stroke="#000" stroke-width="3.0"/>
<line x1="2056.0" y1="1660.3" x2="2056.0" y2="1591.7" stroke="#000" stroke-width="3.0" stroke-linecap="butt"/>
<line x1="2036.8" y1="1591.7" x2="2075.2" y2="1591.7" stroke="#000" stroke-width="3.0" stroke-linecap="butt"/>
<rect x="2020.8" y="1661.8" width="70.5" height="543.8" fill="#999" stroke="#000" stroke-width="3.0"/>
<line x1="2166.3" y1="1734.0" x2="2166.3" y2="1667.6" stroke="#000" stroke-width="3.0" stroke-linecap="butt"/>
<line x1="2147.1" y1="1667.6" x2="2185.6" y2="1667.6" stroke="#000" stroke-width="3.0" stroke-linecap="butt"/>
<rect x="2131.1" y="1735.5" width="70.5" height="470.1" fill="#999" stroke="#000" stroke-width="3.0"/>
<text transform="translate(1598.4,1849.5) rotate(-90)" x="0" y="0" font-family="'Liberation Sans', Arial, Helvetica, sans-serif" font-size="58" font-weight="bold" text-anchor="middle">AUC units</text>
<text transform="translate(1851.0,2271.6) rotate(-45)" x="0" y="0" font-family="'Liberation Sans', Arial, Helvetica, sans-serif" font-size="55" font-weight="bold" text-anchor="end">HFD</text>
<text transform="translate(1960.5,2271.6) rotate(-45)" x="0" y="0" font-family="'Liberation Sans', Arial, Helvetica, sans-serif" font-size="55" font-weight="bold" text-anchor="end">Mouse rinse</text>
<text transform="translate(2070.0,2271.6) rotate(-45)" x="0" y="0" font-family="'Liberation Sans', Arial, Helvetica, sans-serif" font-size="55" font-weight="bold" text-anchor="end">Oral gavage</text>
<text transform="translate(2180.3,2271.6) rotate(-45)" x="0" y="0" font-family="'Liberation Sans', Arial, Helvetica, sans-serif" font-size="55" font-weight="bold" text-anchor="end">Probenecid</text>
<polyline points="1882.3,162.9 1882.3,68.6 2101.3,68.6 2101.3,349.7" fill="none" stroke="#000" stroke-width="3.0"/>
<polyline points="1882.3,86.9 1990.5,86.9 1990.5,349.7" fill="none" stroke="#000" stroke-width="3.0"/>
<text x="1937.0" y="79.7" font-family="'Liberation Sans', Arial, Helvetica, sans-serif" font-size="56" font-weight="bold" text-anchor="middle" >*</text>
<text x="1992.0" y="61.8" font-family="'Liberation Sans', Arial, Helvetica, sans-serif" font-size="56" font-weight="bold" text-anchor="middle" >*</text>
<text x="1858.3" y="1479.4" font-family="'Liberation Sans', Arial, Helvetica, sans-serif" font-size="48" font-weight="normal" text-anchor="start" >+ Probenecid</text>
<text y="1327.5" font-family="'Liberation Serif', 'Times New Roman', serif" font-size="80"><tspan x="629.4">(</tspan><tspan x="654.7" font-weight="bold">a</tspan><tspan x="692.8">)</tspan></text>
<text y="1327.5" font-family="'Liberation Serif', 'Times New Roman', serif" font-size="80"><tspan x="1837.3">(</tspan><tspan x="1863.4" font-weight="bold">b</tspan><tspan x="1908.7">)</tspan></text>
<text y="2666.8" font-family="'Liberation Serif', 'Times New Roman', serif" font-size="80"><tspan x="631.8">(</tspan><tspan x="656.6" font-weight="bold">c</tspan><tspan x="689.7">)</tspan></text>
<text y="2666.8" font-family="'Liberation Serif', 'Times New Roman', serif" font-size="80"><tspan x="1837.3">(</tspan><tspan x="1863.6" font-weight="bold">d</tspan><tspan x="1908.7">)</tspan></text>
</svg>
</body></html>
